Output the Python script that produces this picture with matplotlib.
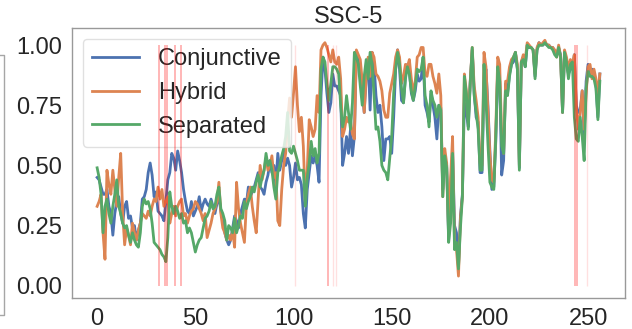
import numpy as np
import matplotlib
matplotlib.use('Agg')
import matplotlib.pyplot as plt
from matplotlib.lines import Line2D

plt.rcParams['font.family'] = ['Liberation Sans', 'DejaVu Sans']
plt.rcParams['text.color'] = '#262626'
plt.rcParams['xtick.color'] = '#262626'
plt.rcParams['ytick.color'] = '#262626'

title = 'SSC-5'
labels = ['Conjunctive', 'Hybrid', 'Separated']
colors = ['#4C72B0', '#DD8452', '#55A868']

conjunctive = [
    0.45, 0.44, 0.41, 0.38, 0.38, 0.40, 0.33, 0.30, 0.21, 0.30,
    0.35, 0.37, 0.30, 0.26, 0.33, 0.35, 0.28, 0.29, 0.24, 0.25,
    0.19, 0.23, 0.26, 0.36, 0.37, 0.40, 0.47, 0.51, 0.46, 0.37,
    0.39, 0.31, 0.30, 0.29, 0.27, 0.35, 0.44, 0.47, 0.55, 0.53,
    0.48, 0.56, 0.52, 0.47, 0.40, 0.35, 0.31, 0.30, 0.35, 0.29,
    0.31, 0.33, 0.37, 0.31, 0.34, 0.36, 0.34, 0.33, 0.36, 0.33,
    0.30, 0.34, 0.37, 0.31, 0.27, 0.22, 0.19, 0.17, 0.19, 0.24,
    0.29, 0.27, 0.24, 0.30, 0.33, 0.36, 0.34, 0.41, 0.37, 0.39,
    0.41, 0.44, 0.47, 0.41, 0.40, 0.38, 0.43, 0.46, 0.52, 0.47,
    0.50, 0.42, 0.55, 0.48, 0.52, 0.56, 0.50, 0.53, 0.50, 0.41,
    0.45, 0.51, 0.44, 0.45, 0.42, 0.30, 0.24, 0.40, 0.47, 0.54,
    0.51, 0.54, 0.50, 0.43, 0.79, 0.95, 0.90, 0.80, 0.72, 0.76,
    0.88, 0.83, 0.83, 0.81, 0.79, 0.50, 0.55, 0.62, 0.55, 0.65,
    0.54, 0.62, 0.97, 0.95, 0.90, 0.81, 0.72, 0.86, 0.94, 0.73,
    0.97, 0.92, 0.79, 0.72, 0.75, 0.66, 0.52, 0.61, 0.61, 0.62,
    0.55, 0.70, 0.90, 0.98, 0.90, 0.77, 0.76, 0.87, 0.92, 0.89,
    0.80, 0.77, 0.81, 0.88, 0.85, 0.86, 0.95, 0.75, 0.72, 0.68,
    0.80, 0.75, 0.70, 0.61, 0.75, 0.74, 0.40, 0.53, 0.50, 0.19,
    0.40, 0.57, 0.25, 0.22, 0.08, 0.29, 0.38, 0.76, 0.72, 0.66,
    0.85, 0.98, 0.80, 0.70, 0.68, 0.47, 0.47, 0.84, 0.90, 0.75,
    0.56, 0.40, 0.41, 0.60, 0.91, 0.85, 0.46, 0.52, 0.84, 0.80,
    0.88, 0.92, 0.93, 0.97, 0.90, 0.49, 0.93, 0.95, 0.91, 1.00,
    0.99, 0.99, 0.98, 0.87, 0.98, 1.01, 1.00, 1.00, 1.01, 1.00,
    1.00, 0.99, 0.99, 0.97, 0.96, 0.99, 0.96, 0.72, 0.97, 0.93,
    0.88, 0.90, 0.90, 0.96, 0.75, 0.72, 0.73, 0.81, 0.62, 0.85,
    0.92, 0.88, 0.90, 0.87, 0.84, 0.70, 0.88,
]

hybrid = [
    0.33, 0.35, 0.38, 0.22, 0.11, 0.48, 0.42, 0.38, 0.48, 0.40,
    0.33, 0.45, 0.55, 0.30, 0.17, 0.24, 0.21, 0.17, 0.26, 0.22,
    0.19, 0.23, 0.26, 0.30, 0.29, 0.28, 0.31, 0.29, 0.33, 0.36,
    0.35, 0.41, 0.36, 0.40, 0.33, 0.35, 0.37, 0.26, 0.30, 0.33,
    0.29, 0.33, 0.35, 0.36, 0.29, 0.30, 0.26, 0.29, 0.31, 0.32,
    0.35, 0.34, 0.32, 0.30, 0.27, 0.30, 0.20, 0.23, 0.26, 0.30,
    0.32, 0.35, 0.43, 0.30, 0.24, 0.22, 0.19, 0.21, 0.19, 0.23,
    0.16, 0.43, 0.32, 0.26, 0.22, 0.18, 0.34, 0.38, 0.41, 0.33,
    0.27, 0.22, 0.36, 0.50, 0.44, 0.48, 0.53, 0.48, 0.50, 0.54,
    0.45, 0.47, 0.27, 0.25, 0.40, 0.50, 0.55, 0.68, 0.78, 0.70,
    0.80, 0.91, 0.75, 0.64, 0.70, 0.58, 0.35, 0.48, 0.69, 0.66,
    0.62, 0.65, 0.79, 0.72, 0.98, 1.00, 1.01, 0.99, 0.96, 0.93,
    0.98, 0.93, 0.92, 0.95, 0.86, 0.62, 0.65, 0.70, 0.68, 0.69,
    0.63, 0.61, 0.98, 0.96, 0.94, 0.85, 0.72, 0.87, 0.95, 0.87,
    0.97, 0.95, 0.88, 0.87, 0.85, 0.81, 0.73, 0.70, 0.70, 0.80,
    0.84, 0.88, 0.95, 0.98, 0.95, 0.84, 0.87, 0.92, 0.91, 0.94,
    0.86, 0.80, 0.85, 0.95, 0.96, 0.99, 0.99, 0.88, 0.87, 0.92,
    0.92, 0.87, 0.84, 0.80, 0.88, 0.79, 0.37, 0.57, 0.51, 0.21,
    0.45, 0.62, 0.17, 0.15, 0.04, 0.28, 0.37, 0.88, 0.81, 0.69,
    0.85, 0.99, 0.83, 0.77, 0.70, 0.51, 0.50, 0.97, 0.91, 0.72,
    0.54, 0.44, 0.43, 0.65, 0.95, 0.92, 0.62, 0.55, 0.85, 0.85,
    0.91, 0.94, 0.95, 0.97, 0.92, 0.50, 0.93, 0.96, 0.94, 1.01,
    1.00, 0.99, 0.98, 0.88, 0.99, 1.01, 1.00, 1.01, 1.02, 1.00,
    1.00, 0.99, 0.99, 0.98, 0.95, 1.00, 0.95, 0.72, 0.98, 0.95,
    0.90, 0.94, 0.92, 0.96, 0.74, 0.65, 0.72, 0.81, 0.65, 0.80,
    0.91, 0.92, 0.86, 0.90, 0.86, 0.80, 0.88,
]

separated = [
    0.49, 0.45, 0.38, 0.22, 0.33, 0.36, 0.30, 0.26, 0.33, 0.38,
    0.44, 0.33, 0.30, 0.26, 0.24, 0.25, 0.21, 0.18, 0.22, 0.19,
    0.17, 0.16, 0.22, 0.33, 0.36, 0.34, 0.35, 0.32, 0.26, 0.18,
    0.17, 0.16, 0.15, 0.13, 0.12, 0.10, 0.20, 0.39, 0.33, 0.30,
    0.33, 0.31, 0.28, 0.30, 0.26, 0.27, 0.22, 0.24, 0.22, 0.18,
    0.14, 0.17, 0.19, 0.20, 0.24, 0.28, 0.29, 0.31, 0.35, 0.32,
    0.33, 0.38, 0.41, 0.32, 0.30, 0.27, 0.19, 0.25, 0.24, 0.22,
    0.28, 0.22, 0.25, 0.29, 0.28, 0.35, 0.32, 0.35, 0.37, 0.41,
    0.39, 0.43, 0.46, 0.41, 0.45, 0.48, 0.55, 0.50, 0.52, 0.48,
    0.41, 0.36, 0.47, 0.50, 0.54, 0.57, 0.62, 0.72, 0.56, 0.55,
    0.58, 0.55, 0.52, 0.48, 0.48, 0.48, 0.33, 0.45, 0.51, 0.60,
    0.54, 0.57, 0.51, 0.55, 0.90, 0.95, 0.93, 0.84, 0.77, 0.84,
    0.91, 0.91, 0.90, 0.88, 0.75, 0.66, 0.70, 0.79, 0.72, 0.65,
    0.76, 0.97, 0.95, 0.92, 0.83, 0.75, 0.87, 0.94, 0.86, 0.97,
    0.92, 0.79, 0.65, 0.66, 0.60, 0.50, 0.48, 0.47, 0.44, 0.53,
    0.62, 0.80, 0.90, 0.97, 0.92, 0.82, 0.76, 0.86, 0.91, 0.88,
    0.81, 0.77, 0.83, 0.90, 0.89, 0.90, 0.95, 0.79, 0.75, 0.66,
    0.81, 0.77, 0.75, 0.70, 0.75, 0.73, 0.37, 0.54, 0.49, 0.18,
    0.26, 0.55, 0.15, 0.18, 0.07, 0.24, 0.37, 0.87, 0.80, 0.65,
    0.84, 0.99, 0.79, 0.72, 0.65, 0.48, 0.48, 0.92, 0.77, 0.59,
    0.43, 0.41, 0.40, 0.62, 0.91, 0.85, 0.58, 0.55, 0.81, 0.79,
    0.87, 0.92, 0.95, 0.97, 0.90, 0.48, 0.93, 0.94, 0.91, 1.00,
    0.99, 0.99, 0.98, 0.86, 0.98, 1.00, 1.00, 1.00, 1.01, 1.00,
    0.99, 0.99, 0.98, 0.96, 0.95, 0.99, 0.95, 0.72, 0.97, 0.93,
    0.86, 0.92, 0.93, 0.70, 0.61, 0.60, 0.70, 0.62, 0.52, 0.82,
    0.89, 0.87, 0.87, 0.86, 0.82, 0.69, 0.85,
]

# anomaly windows (start index, width 1) and weak marks
anomaly_strong = [31, 34, 35, 39, 42, 117, 243, 244]
anomaly_weak = [100.8, 120.0, 121.4, 249.3]


def main():
    fig = plt.figure(figsize=(6.32, 3.29), dpi=100)
    ax = fig.add_axes([72 / 632, 31 / 329, 553 / 632, 270 / 329])

    for series, label, color in zip([conjunctive, hybrid, separated], labels, colors):
        ax.plot(np.arange(len(series)), series, color=color, lw=2.0, label=label)

    for start in anomaly_strong:
        ax.fill_between([start, start + 1], 0, 1, color='red', alpha=0.28,
                        lw=0, zorder=6)
    ax.vlines(anomaly_weak, 0, 1, color='red', alpha=0.12, lw=1, zorder=6)

    ax.set_yticks([0.0, 0.25, 0.5, 0.75, 1.0])
    ax.set_yticklabels(['0.00', '0.25', '0.50', '0.75', '1.00'])
    ax.set_xticks([0, 50, 100, 150, 200, 250])
    ax.tick_params(length=0, labelsize=17, pad=7)
    for sp in ax.spines.values():
        sp.set_color('0.6')
        sp.set_linewidth(1.0)

    ax.set_title(title, fontsize=17, pad=3)
    leg = ax.legend(loc='upper left', fontsize=17, handlelength=2.0,
                    borderaxespad=0.45, fancybox=True, framealpha=0.8)
    leg.get_frame().set_edgecolor('0.85')

    # edge of the neighbouring panel, cut off at the left border
    fig.add_artist(Line2D([0, 4 / 632, 4 / 632, 0], [274 / 329, 274 / 329, 14 / 329, 14 / 329],
                          transform=fig.transFigure, color='0.65', lw=1))

    fig.savefig('out.png', dpi=100)


if __name__ == '__main__':
    main()
